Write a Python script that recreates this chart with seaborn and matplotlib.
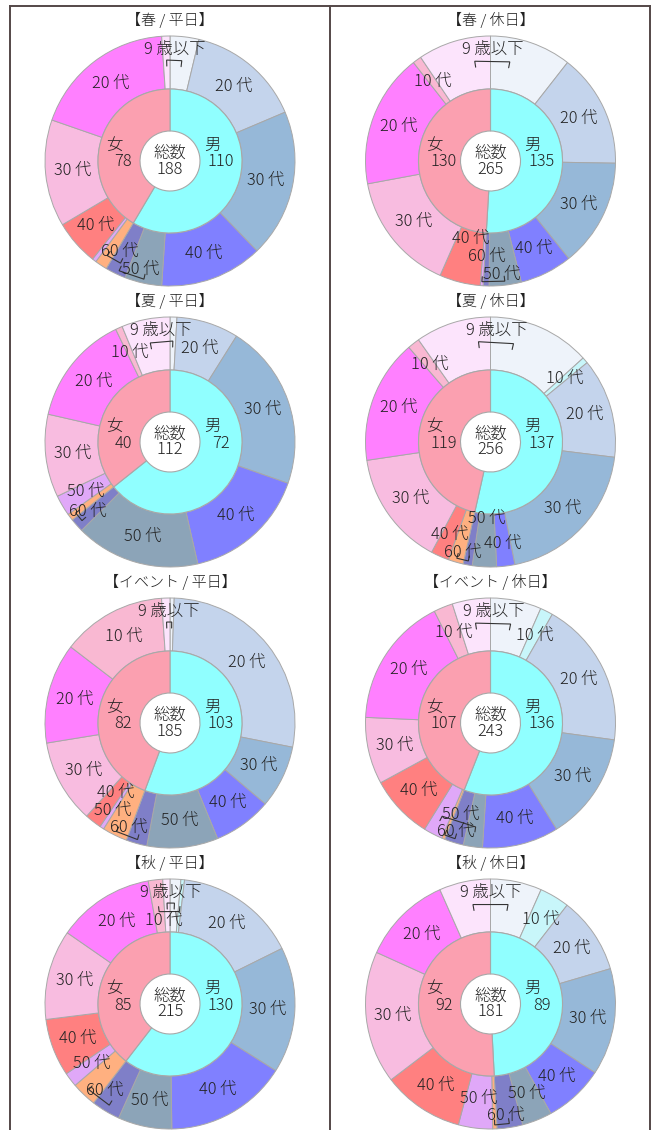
import numpy as np
import matplotlib
matplotlib.use("Agg")
import matplotlib.pyplot as plt
import seaborn as sns

sns.set_theme(style="white")
plt.rcParams["font.family"] = ["Noto Sans CJK JP", "DejaVu Sans"]

# Age groups of the outer ring, youngest first
age_groups = ["9 歳以下", "10 代", "20 代", "30 代", "40 代", "50 代", "60 代"]

panel_titles = ["【春 / 平日】", "【春 / 休日】", "【夏 / 平日】", "【夏 / 休日】",
                "【イベント / 平日】", "【イベント / 休日】", "【秋 / 平日】", "【秋 / 休日】"]

# Visitors per age group: 9歳以下, 10代, 20代, 30代, 40代, 50代, 60代
spring_weekday_male = [7, 0, 28, 36, 25, 9, 5]
spring_weekday_female = [2, 0, 35, 26, 11, 1, 3]
spring_holiday_male = [28, 0, 39, 37, 18, 11, 2]
spring_holiday_female = [25, 3, 46, 41, 14, 1, 0]
summer_weekday_male = [1, 0, 9, 24, 18, 18, 2]
summer_weekday_female = [7, 1, 16, 12, 0, 3, 1]
summer_holiday_male = [34, 2, 33, 51, 6, 8, 3]
summer_holiday_female = [25, 4, 41, 38, 6, 0, 5]
event_weekday_male = [1, 0, 51, 15, 14, 17, 5]
event_weekday_female = [2, 25, 24, 20, 4, 1, 6]
event_holiday_male = [16, 4, 46, 34, 24, 6, 6]
event_holiday_female = [12, 6, 41, 21, 20, 6, 1]
autumn_weekday_male = [3, 1, 34, 35, 34, 15, 8]
autumn_weekday_female = [2, 4, 27, 25, 16, 4, 7]
autumn_holiday_male = [12, 7, 18, 25, 14, 7, 6]
autumn_holiday_female = [12, 0, 21, 31, 19, 8, 1]

panels = [
    (spring_weekday_male, spring_weekday_female),
    (spring_holiday_male, spring_holiday_female),
    (summer_weekday_male, summer_weekday_female),
    (summer_holiday_male, summer_holiday_female),
    (event_weekday_male, event_weekday_female),
    (event_holiday_male, event_holiday_female),
    (autumn_weekday_male, autumn_weekday_female),
    (autumn_holiday_male, autumn_holiday_female),
]

male_colors = ["#eef3fa", "#c8f6fa", "#c4d4ec", "#96b8d8", "#8080ff", "#8ca4b8", "#7f7fc8"]
female_colors = ["#fce4fc", "#f9b8d2", "#ff80ff", "#f8bce0", "#ff8080", "#e0a8f8", "#ffb080"]
male_inner = "#90ffff"
female_inner = "#fba0b0"
EDGE = "#a8a8a8"
TXT = "#222222"
FRAME = "#544848"

W, H = 659, 1130
R_OUT, R_MID, R_IN = 125, 72, 30
COL_X = [170, 490.5]
ROW_Y = [161, 442, 723, 1004]
FS = 11.8
FS_TITLE = 10.8
EM = FS * 100 / 72  # font size in pixels
TEXT_KW = dict(ha="center", va="center", fontsize=FS, color=TXT, fontweight="light")

fig = plt.figure(figsize=(W / 100, H / 100), dpi=100)
ax = fig.add_axes([0, 0, 1, 1])


def text_width(s):
    w = 0.0
    for ch in s:
        if ch.isdigit():
            w += 0.56 * EM
        elif ch == " ":
            w += 0.25 * EM
        else:
            w += 1.0 * EM
    return w


def polar(cx, cy, ang, r):
    a = np.radians(ang)
    return cx + r * np.sin(a), cy + r * np.cos(a)


def ang_diff(a, b):
    return (a - b + 180) % 360 - 180


def circ_mean(a, b, wa=1.0, wb=1.0):
    ra, rb = np.radians(a), np.radians(b)
    return np.degrees(np.arctan2(wa * np.sin(ra) + wb * np.sin(rb),
                                 wa * np.cos(ra) + wb * np.cos(rb))) % 360


def relax(items, r_min=76, r_max=114, step=1.5):
    """Push overlapping labels apart along their radii."""
    for _ in range(400):
        moved = False
        for i in range(len(items)):
            for j in range(i + 1, len(items)):
                a, b = items[i], items[j]
                ax_, ay_ = polar(0, 0, a["ang"], a["r"])
                bx_, by_ = polar(0, 0, b["ang"], b["r"])
                if (abs(ax_ - bx_) < (a["w"] + b["w"]) / 2 + 1
                        and abs(ay_ - by_) < (a["h"] + b["h"]) / 2):
                    if a["fixed"] and b["fixed"]:
                        continue
                    if a["fixed"] or b["fixed"]:
                        f, m = (a, b) if a["fixed"] else (b, a)
                        s = -step if m["r"] <= f["r"] else step
                        m["r"] = float(np.clip(m["r"] + s, r_min, r_max))
                    else:
                        out, inn = (a, b) if a["r"] >= b["r"] else (b, a)
                        out["r"] = float(np.clip(out["r"] + step, r_min, r_max))
                        inn["r"] = float(np.clip(inn["r"] - step, r_min, r_max))
                    moved = True
        if not moved:
            break


for k, (male, female) in enumerate(panels):
    cx = COL_X[k % 2]
    cy = H - ROW_Y[k // 2]
    n_m, n_f = sum(male), sum(female)
    total = n_m + n_f
    deg = 360.0 / total

    # outer ring: male youngest->oldest clockwise, then female oldest->youngest
    vals = list(male) + list(female[::-1])
    cols = male_colors + female_colors[::-1]
    nz = [(v, c) for v, c in zip(vals, cols) if v > 0]
    ax.pie([v for v, _ in nz], colors=[c for _, c in nz], startangle=90,
           counterclock=False, radius=R_OUT, center=(cx, cy), frame=False,
           wedgeprops=dict(width=R_OUT - R_MID, edgecolor=EDGE, linewidth=0.7))
    # inner ring: gender split
    ax.pie([n_m, n_f], colors=[male_inner, female_inner], startangle=90,
           counterclock=False, radius=R_MID, center=(cx, cy), frame=False,
           wedgeprops=dict(width=R_MID - R_IN, edgecolor=EDGE, linewidth=0.8))

    # slice mid angles (clockwise from 12 o'clock)
    mids_m, mids_f = {}, {}
    cum = 0
    for i, v in enumerate(male):
        if v > 0:
            mids_m[i] = (cum + v / 2) * deg
        cum += v
    for i in reversed(range(7)):
        v = female[i]
        if v > 0:
            mids_f[i] = (cum + v / 2) * deg
        cum += v

    items = []
    for i, name in enumerate(age_groups):
        w = text_width(name)
        if i in mids_m and i in mids_f:
            gap = abs(ang_diff(mids_m[i], mids_f[i]))
            if i == 0 or gap < 27:
                if i == 0:
                    a = circ_mean(mids_m[i], mids_f[i])
                    r0 = 112.0
                else:
                    a = circ_mean(mids_m[i], mids_f[i], male[i], female[i])
                    r0 = 84.0 if abs(ang_diff(a, 0)) < 60 else 108.0
                items.append(dict(text=name, ang=a, r=r0, w=w, h=17, fixed=(i == 0),
                                  pair=(mids_m[i], mids_f[i]), top=(i == 0)))
                continue
        for mids in (mids_m, mids_f):
            if i in mids:
                items.append(dict(text=name, ang=mids[i], r=98.0, w=w, h=17,
                                  fixed=False, pair=None, top=False))
    items.sort(key=lambda d: (d["ang"] + 20) % 360)
    relax(items)

    for it in items:
        x, y = polar(cx, cy, it["ang"], it["r"])
        ax.text(x, y, it["text"], **TEXT_KW)
        if it["pair"] is not None:
            L = it["ang"]
            if it["top"]:
                r_bar = it["r"] - 11
                r_leg = r_bar - 6
            elif it["r"] >= 98:
                r_bar = min(it["r"] + 10, 121)
                r_leg = r_bar - 5
            else:
                r_bar = it["r"] + 9
                r_leg = r_bar + 5
            legs = []
            for m in it["pair"]:
                d = float(np.clip(ang_diff(m, L), -10, 10))
                legs.append(L + d)
            legs.sort(key=lambda a: ang_diff(a, L))
            p1 = polar(cx, cy, legs[0], r_leg)
            q1 = polar(cx, cy, legs[0], r_bar)
            q2 = polar(cx, cy, legs[1], r_bar)
            p2 = polar(cx, cy, legs[1], r_leg)
            ax.plot([p1[0], q1[0], q2[0], p2[0]], [p1[1], q1[1], q2[1], p2[1]],
                    color="#333333", lw=0.8, solid_joinstyle="miter")

    # centre and gender captions
    ax.text(cx, cy + 8, "総数", **TEXT_KW)
    ax.text(cx, cy - 8, str(total), **TEXT_KW)
    ax.text(cx + 42, cy + 15.5, "男", **TEXT_KW)
    ax.text(cx + 51, cy - 1, str(n_m), **TEXT_KW)
    ax.text(cx - 56, cy + 15.5, "女", **TEXT_KW)
    ax.text(cx - 47, cy - 1, str(n_f), **TEXT_KW)

    ax.text(cx, cy + 141, panel_titles[k], ha="center", va="center",
            fontsize=FS_TITLE, color=TXT, fontweight="light")

# table frame
for xs, ys in [([10, 650], [H - 6, H - 6]), ([10, 10], [H - 6, 0]),
               ([330, 330], [H - 6, 0]), ([650, 650], [H - 6, 0])]:
    ax.plot(xs, ys, color=FRAME, lw=1.4, solid_capstyle="projecting")

ax.set_xlim(0, W)
ax.set_ylim(0, H)
ax.set_aspect("auto")
ax.axis("off")
fig.savefig("out.png", dpi=100, facecolor="white")
